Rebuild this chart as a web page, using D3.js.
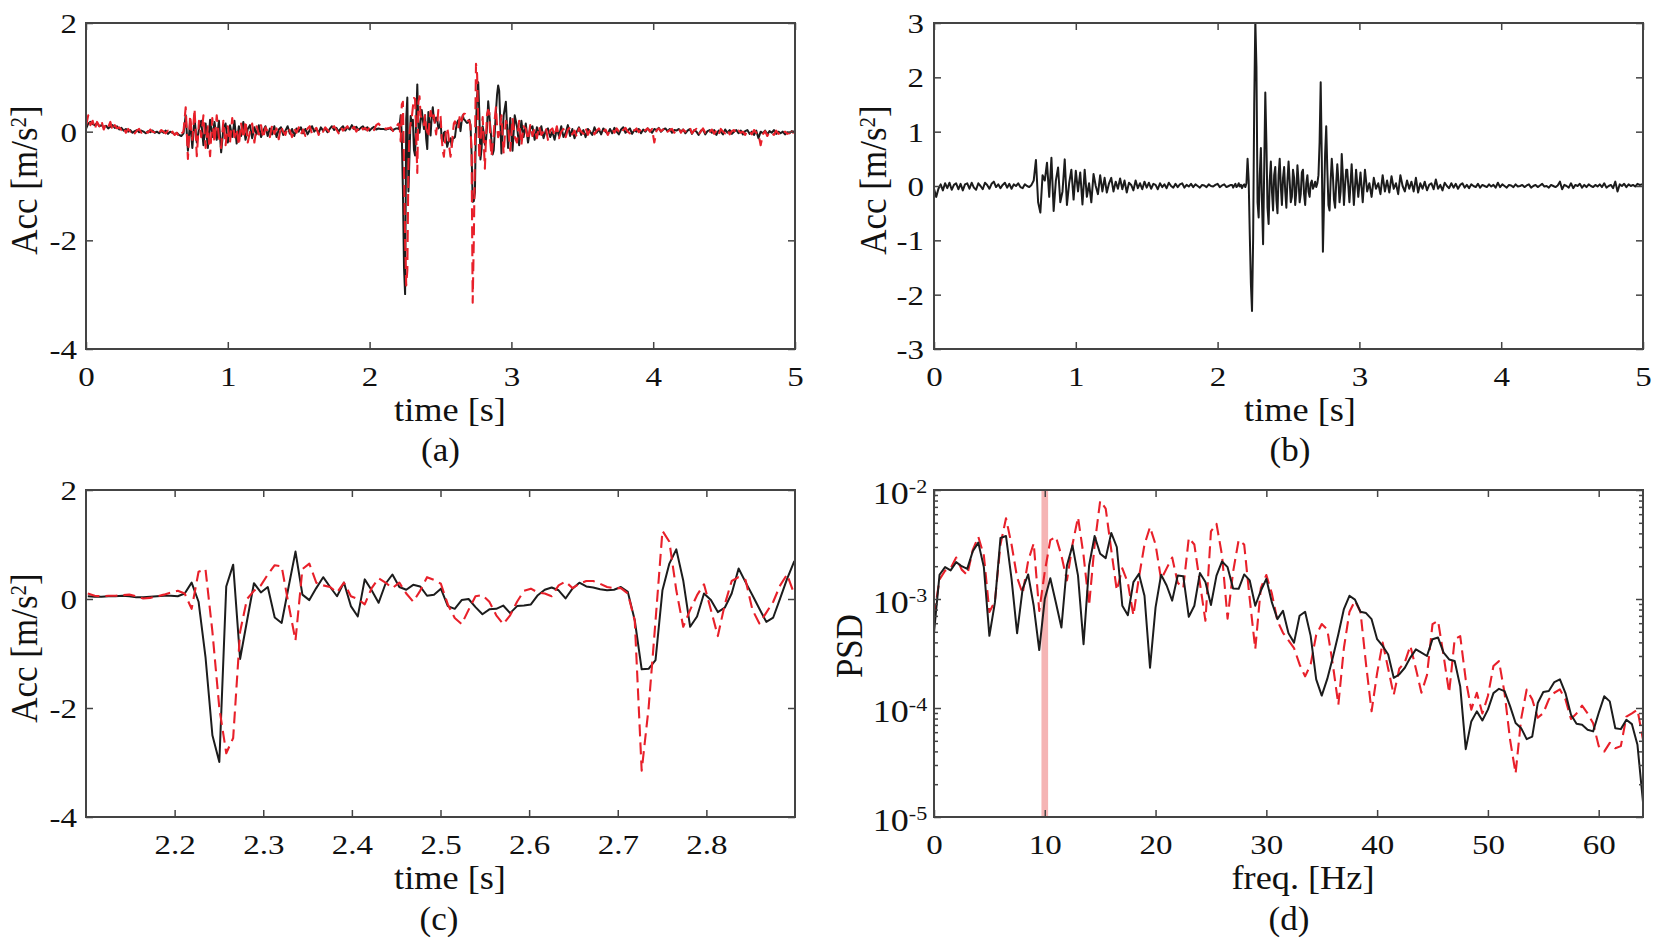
<!DOCTYPE html>
<html><head><meta charset="utf-8">
<script src="https://cdn.jsdelivr.net/npm/d3@7"></script>
<style>
html,body{margin:0;padding:0;background:#fff;}
svg{display:block;}
text{font-family:"Liberation Serif","Times New Roman",Times,serif;fill:#111;}
</style></head><body>
<script>
// ---------------- DATA ----------------
// Sampling grid of the acceleration records (s)
const FS_SLOW = 64, FS_FAST = 128;
const PRE_START = 0, MID_START = 2.102, POST_START = 2.9140625;

// Panel (a): measured (black) and simulated (red) acceleration, m/s^2
const accBlackPre = [0.05,0.15,0.18,0.14,0.12,0.16,0.10,0.12,0.08,0.11,0.06,0.09,0.12,0.07,0.10,0.04,
 0.07,0.02,0.05,0.00,0.03,-0.02,0.01,0.03,-0.01,0.02,0.00,-0.03,0.01,-0.01,0.02,-0.02,
 0.00,-0.03,0.01,-0.02,0.02,-0.04,0.00,-0.02,-0.05,-0.02,-0.06,-0.08,-0.03,0.30,-0.35,0.20,
 -0.30,0.25,-0.20,0.05,0.20,-0.25,0.15,-0.30,0.22,-0.10,0.18,-0.15,0.20,-0.38,0.05,0.15,
 -0.20,0.12,-0.10,0.20,-0.22,0.10,-0.08,0.18,-0.15,0.05,0.12,-0.12,0.08,-0.05,0.12,-0.10,
 0.02,0.10,-0.08,0.06,-0.05,0.10,-0.10,0.04,0.08,-0.06,0.02,0.10,-0.04,0.05,-0.08,0.06,
 0.00,0.08,-0.03,0.05,-0.05,0.03,0.10,0.00,0.05,-0.02,0.08,0.02,0.06,-0.01,0.05,0.10,
 0.03,0.07,0.00,0.06,0.10,0.02,0.08,0.04,0.12,0.05,0.09,0.03,0.07,0.10,0.04,0.08,
 0.02,0.06,0.09,0.04,0.06,0.05,0.05];
const accRedPre = [0.10,0.30,0.12,0.20,0.05,0.18,0.10,0.20,0.04,0.14,0.08,0.18,0.02,0.12,0.06,0.08,
 0.03,0.08,-0.02,0.05,0.00,0.04,-0.03,0.02,0.05,-0.02,0.03,0.00,-0.02,0.04,0.00,-0.01,
 0.02,-0.02,0.03,0.00,-0.03,0.02,-0.05,0.00,-0.06,-0.02,-0.10,-0.04,0.00,0.45,-0.50,0.30,
 -0.15,0.42,-0.45,0.20,-0.10,0.30,-0.30,0.10,-0.45,0.25,-0.20,0.30,-0.10,-0.30,0.20,-0.25,
 0.10,-0.20,0.25,-0.10,0.05,-0.25,0.15,-0.12,0.20,-0.20,0.00,0.15,-0.20,0.10,-0.05,0.12,
 -0.12,0.08,0.00,-0.10,0.12,-0.04,0.06,-0.14,0.10,0.00,-0.06,0.08,0.02,-0.10,0.06,-0.02,
 0.08,-0.05,0.04,-0.08,0.06,0.10,-0.04,0.03,0.07,-0.06,0.04,0.00,0.08,0.03,-0.02,0.06,
 0.10,0.04,-0.03,0.08,0.02,0.06,0.10,0.01,0.05,0.09,0.00,0.06,0.11,0.04,0.07,0.02,
 0.08,0.10,0.03,0.12,0.15,0.10,0.10];
// 2.1 - 2.9 s window (also panel (c))
const accBlackMid = [0.05,0.04,0.04,0.05,0.05,0.06,0.05,0.03,0.03,0.04,0.05,0.06,0.06,0.05,
 0.10,0.30,-0.05,-1.06,-2.50,-2.99,0.23,0.63,-1.10,-0.40,0.29,0.12,0.22,-0.34,-0.44,0.22,0.87,
 0.08,-0.02,0.20,0.40,0.22,0.05,0.30,-0.13,-0.32,0.36,0.16,-0.07,0.28,0.45,0.22,0.17,0.26,0.23,0.06,0.08,
 0.19,-0.13,-0.18,-0.02,0.00,-0.15,-0.28,-0.19,-0.18,-0.12,-0.26,-0.13,-0.12,-0.10,0.07,0.17,0.21,0.16,0.01,0.19,
 0.30,0.23,0.21,0.18,0.16,0.17,0.22,0.13,-0.39,-1.29,-1.28,-1.12,0.16,0.65,0.91,0.34,-0.51,-0.32,0.10,-0.02,
 -0.24,-0.16,0.10,0.56,0.31,0.07,-0.18,-0.42,-0.34,0.01,0.37,0.68,0.85];
const accRedMid = [0.10,0.06,0.05,0.06,0.06,0.07,0.08,0.05,0.01,0.02,0.05,0.08,0.12,0.15,
 0.10,-0.18,0.50,0.55,-0.60,-2.00,-2.83,-2.55,-0.60,0.00,0.15,0.25,0.45,0.62,0.60,-0.10,-0.76,
 0.55,0.65,0.30,0.25,0.22,0.12,0.30,0.05,0.00,-0.10,0.20,0.38,0.30,0.20,0.30,0.10,-0.05,0.15,0.40,0.35,
 0.28,-0.10,-0.35,-0.46,-0.20,0.05,0.07,-0.05,-0.30,-0.46,-0.30,-0.05,0.15,0.19,0.12,0.10,0.05,0.25,0.32,0.20,
 0.28,0.33,0.33,0.28,0.22,0.20,0.20,0.10,-0.40,-3.15,-2.00,-0.40,1.25,1.05,0.16,-0.51,-0.20,0.07,0.27,-0.20,
 -0.68,-0.10,0.33,0.40,0.35,-0.20,-0.45,-0.25,-0.05,0.25,0.45,0.10,-0.10];
const accBlackPost = [0.75,-0.40,0.30,0.55,-0.30,0.25,-0.35,0.30,0.10,-0.25,0.20,-0.10,0.15,-0.20,0.05,0.10,
 -0.15,0.08,-0.05,0.10,-0.12,0.02,0.06,-0.10,0.00,-0.15,0.05,-0.08,0.10,-0.10,-0.02,0.12,
 -0.08,0.05,-0.12,0.00,0.08,-0.06,0.03,-0.10,0.05,0.00,-0.06,0.08,-0.02,0.04,-0.05,0.06,
 0.00,-0.04,0.05,-0.03,0.07,0.00,-0.05,0.04,0.08,-0.02,0.02,0.06,-0.04,0.03,0.00,0.05,
 -0.03,0.04,0.00,0.06,0.02,-0.02,0.05,0.03,0.07,0.00,0.04,0.06,0.01,0.05,-0.02,0.03,
 0.02,0.05,0.00,0.04,-0.03,0.02,0.05,-0.04,0.03,0.00,-0.06,0.02,0.04,-0.05,0.01,0.03,
 -0.02,0.03,-0.06,0.02,0.00,-0.05,0.04,-0.02,0.03,-0.04,0.00,0.03,-0.03,0.02,-0.05,0.01,
 0.03,-0.04,0.00,-0.06,0.02,-0.12,0.00,-0.03,0.02,-0.05,0.01,-0.02,0.03,-0.04,0.00,-0.03,
 0.00,-0.05,-0.01,-0.03,0.01,0.00,0.02];
const accRedPost = [-0.05,0.30,-0.40,0.20,0.10,-0.35,0.25,-0.10,-0.20,0.20,-0.25,0.10,0.05,-0.15,0.12,-0.08,
 0.06,-0.12,0.10,-0.06,0.00,0.08,-0.15,0.02,0.06,-0.08,0.10,-0.12,0.00,0.05,-0.10,0.04,
 0.08,-0.05,0.02,-0.10,0.06,0.00,-0.04,0.07,-0.06,0.03,0.05,-0.05,0.02,0.06,-0.03,0.00,
 0.04,-0.06,0.02,0.05,-0.02,0.06,0.00,-0.04,0.03,0.07,0.00,-0.03,0.05,0.02,0.06,-0.01,
 0.04,-0.02,0.03,0.06,0.00,0.05,-0.20,0.02,0.06,0.01,0.04,0.08,0.00,0.03,0.05,-0.02,
 0.03,0.06,-0.02,0.04,0.00,0.05,0.08,-0.03,0.02,0.05,-0.05,0.00,0.06,-0.02,0.03,0.00,
 0.04,-0.04,0.02,-0.06,0.05,0.00,-0.03,0.04,-0.05,0.01,0.03,-0.04,0.02,-0.02,0.00,-0.06,
 0.02,0.00,-0.05,0.03,-0.02,-0.04,-0.25,-0.05,0.01,-0.08,0.00,-0.03,-0.06,0.02,-0.04,-0.02,
 -0.05,0.00,-0.04,-0.02,0.00,-0.03,0.00];

// Panel (b): second acceleration record, m/s^2
const accBPre = [-0.05,-0.20,-0.05,0.03,-0.08,0.05,-0.04,0.06,-0.07,0.02,0.05,-0.06,0.04,-0.08,0.03,0.05,
 -0.05,0.06,-0.03,-0.07,0.05,0.00,-0.06,0.06,0.02,-0.05,0.04,0.08,-0.02,0.03,-0.04,0.02,
 0.06,-0.03,0.04,-0.05,0.03,0.00,0.05,-0.02,-0.04,0.03,0.00,-0.02,0.02,0.10,0.48,-0.30,
 -0.49,0.20,0.10,0.43,-0.20,0.52,-0.46,0.10,0.34,-0.30,-0.10,0.49,-0.35,0.05,0.30,-0.25,
 0.28,-0.10,0.25,-0.34,0.30,-0.20,0.05,-0.30,0.22,0.00,-0.15,0.20,-0.10,0.15,-0.12,0.05,
 0.15,-0.10,0.08,-0.05,0.14,-0.06,0.10,-0.12,0.06,0.02,-0.08,0.10,-0.04,0.05,-0.06,0.08,
 -0.03,0.06,-0.05,0.04,0.02,-0.06,0.05,-0.02,0.03,-0.04,0.06,0.00,-0.03,0.04,-0.02,0.03,
 0.05,-0.03,0.02,-0.01,0.04,-0.02,0.03,0.00,-0.03,0.02,0.01,-0.02,0.03,0.00,-0.01,0.02,
 0.04,-0.02,0.01,0.03,-0.02,0.00,0.02];
const accBMid = [0.02,-0.03,0.01,0.04,-0.02,0.00,0.05,-0.01,0.02,-0.04,0.01,0.03,-0.02,
 0.05,0.50,0.10,-0.90,-1.80,-2.30,-1.00,1.50,3.05,2.20,-0.30,-0.58,0.20,0.70,-0.30,-1.07,0.30,1.72,
 0.80,-0.40,-0.70,0.10,0.45,-0.10,-0.45,0.20,0.35,-0.25,-0.50,0.20,0.50,0.00,-0.35,0.15,0.35,-0.10,-0.40,0.10,
 0.45,0.10,-0.30,-0.20,0.30,0.15,-0.35,-0.10,0.38,0.10,-0.30,-0.15,0.25,0.30,-0.15,-0.35,0.05,0.20,-0.10,-0.20,
 0.05,0.10,-0.05,0.00,0.08,-0.02,0.05,0.20,0.80,1.91,0.50,-1.21,-0.30,0.60,1.10,0.30,-0.35,-0.45,0.10,0.50,
 0.20,-0.25,-0.40,0.05,0.40,0.10,-0.30,-0.10,0.59,0.20,-0.35,0.00,0.30];
const accBPost = [0.30,-0.30,0.40,-0.35,0.30,-0.20,0.25,-0.30,0.30,-0.10,0.05,-0.20,0.15,-0.05,0.05,-0.15,
 0.20,-0.10,0.10,-0.12,0.18,-0.05,0.05,-0.15,0.20,0.00,-0.10,0.10,-0.05,0.08,-0.10,0.15,
 -0.12,0.05,-0.05,0.08,-0.08,0.02,0.05,-0.06,0.12,-0.05,0.02,-0.08,0.06,0.00,-0.04,0.05,
 -0.03,0.04,-0.05,0.02,0.05,-0.03,0.02,-0.04,0.03,0.00,-0.02,0.04,-0.03,0.02,0.00,-0.02,
 0.03,-0.01,0.02,-0.03,0.06,-0.02,0.03,0.00,-0.03,0.02,0.01,-0.02,0.03,-0.01,0.00,0.02,
 -0.02,0.01,0.03,-0.03,0.00,0.02,-0.02,0.01,0.04,-0.01,0.00,-0.03,0.02,0.00,-0.02,0.01,
 0.08,-0.06,0.02,0.00,-0.03,0.05,-0.04,0.02,0.00,0.04,-0.03,0.02,-0.02,0.03,0.00,-0.02,
 0.02,-0.01,0.03,-0.02,0.05,-0.03,0.00,0.02,-0.04,0.08,-0.10,0.03,0.00,0.04,-0.02,0.03,
 0.00,0.02,-0.01,0.04,0.02,0.03,0.02];

// Panel (d): PSD, frequency step 0.5 Hz from 0 to 64 Hz
const PSD_DF = 0.5;
const psdBlack = [4.92e-4,1.67e-3,1.96e-3,1.83e-3,2.18e-3,2.0e-3,1.89e-3,2.74e-3,3.29e-3,1.96e-3,
 4.59e-4,9.3e-4,3.63e-3,3.78e-3,1.53e-3,4.85e-4,1.24e-3,1.68e-3,8.67e-4,3.4e-4,
 1.0e-3,1.55e-3,9.3e-4,5.47e-4,2.03e-3,3.1e-3,1.64e-3,3.85e-4,2.03e-3,3.78e-3,
 2.6e-3,2.37e-3,4.04e-3,3.0e-3,8.67e-4,7.11e-4,1.43e-3,1.7e-3,1.07e-3,2.34e-4,
 8.38e-4,1.67e-3,1.33e-3,9.66e-4,1.64e-3,1.62e-3,6.87e-4,8.67e-4,1.73e-3,1.43e-3,
 8.81e-4,1.64e-3,2.21e-3,1.96e-3,1.25e-3,1.24e-3,1.68e-3,1.48e-3,8.67e-4,1.19e-3,
 1.53e-3,9.3e-4,6.53e-4,7.8e-4,4.84e-4,3.98e-4,7.01e-4,7.64e-4,4.59e-4,1.83e-4,
 1.3e-4,1.85e-4,2.9e-4,4.75e-4,8.09e-4,1.07e-3,9.86e-4,7.64e-4,7.43e-4,6.53e-4,
 4.28e-4,3.71e-4,3.1e-4,1.89e-4,2.03e-4,2.34e-4,2.9e-4,3.45e-4,3.22e-4,3.0e-4,
 4.28e-4,4.43e-4,3.22e-4,2.79e-4,2.7e-4,1.58e-4,4.19e-5,7.53e-5,9.31e-5,7.69e-5,
 9.66e-5,1.37e-4,1.5e-4,1.43e-4,1.04e-4,7.28e-5,6.53e-5,5.18e-5,5.47e-5,1.11e-4,
 1.4e-4,1.43e-4,1.73e-4,1.83e-4,1.37e-4,8.67e-5,7.16e-5,7.01e-5,6.31e-5,6.1e-5,
 8.99e-5,1.28e-4,1.15e-4,6.53e-5,6.4e-5,7.8e-5,7.11e-5,4.59e-5,1.37e-5];
const psdRed = [7.08e-4,1.51e-3,1.82e-3,1.91e-3,2.4e-3,1.86e-3,1.66e-3,2.82e-3,3.72e-3,2.51e-3,
 7.59e-4,9.55e-4,3.16e-3,5.5e-3,3.16e-3,1.58e-3,1.12e-3,2.24e-3,3.24e-3,7.76e-4,
 1.78e-3,3.47e-3,3.72e-3,2.51e-3,1.48e-3,3.16e-3,5.62e-3,2.51e-3,8.71e-4,3.16e-3,
 7.94e-3,6.76e-3,2.82e-3,1.2e-3,1.91e-3,1.41e-3,7.08e-4,1.58e-3,3.16e-3,4.57e-3,
 3.16e-3,1.51e-3,1.91e-3,2.4e-3,1.41e-3,1.26e-3,3.63e-3,3.16e-3,1.41e-3,6.31e-4,
 4.17e-3,4.9e-3,2.51e-3,6.61e-4,1.78e-3,3.47e-3,3.16e-3,1.0e-3,3.47e-4,1.26e-3,
 1.66e-3,1.12e-3,6.31e-4,4.9e-4,4.17e-4,3.55e-4,2.51e-4,1.95e-4,2.51e-4,4.68e-4,
 5.89e-4,5.25e-4,2.51e-4,1.07e-4,3.55e-4,7.59e-4,9.66e-4,7.59e-4,2.51e-4,9.33e-5,
 2.09e-4,3.98e-4,2.29e-4,1.32e-4,2.29e-4,2.63e-4,3.72e-4,2.29e-4,1.38e-4,2.0e-4,
 5.89e-4,6.31e-4,3.02e-4,1.38e-4,4.27e-4,4.57e-4,1.82e-4,9.66e-5,1.38e-4,8.91e-5,
 1.29e-4,2.43e-4,2.69e-4,1.38e-4,5.13e-5,2.51e-5,7.94e-5,1.48e-4,1.2e-4,8.13e-5,
 8.99e-5,1.2e-4,1.38e-4,1.48e-4,1.2e-4,7.94e-5,8.91e-5,1.05e-4,8.91e-5,7.24e-5,
 4.47e-5,3.98e-5,4.79e-5,4.27e-5,4.47e-5,8.32e-5,8.91e-5,9.66e-5,5.13e-5];
const highlightBand = [9.7, 10.3]; // Hz

// Tick values / labels
const timeTicks = [0, 1, 2, 3, 4, 5];
const accTicksA = [-4, -2, 0, 2];
const accTicksB = [-3, -2, -1, 0, 1, 2, 3];
const zoomTimeTicks = [2.2, 2.3, 2.4, 2.5, 2.6, 2.7, 2.8];
const freqTicks = [0, 10, 20, 30, 40, 50, 60];
const psdTicks = [1e-5, 1e-4, 1e-3, 1e-2];
const psdTickExp = ["-5", "-4", "-3", "-2"];

// ---------------- DRAWING ----------------
const COLORS = {axis: "#444444", black: "#1c1c1c", red: "#e8202a", band: "#f5b4b4"};
const TICK_FS = 27.5, TICK_SX = 1.2, TITLE_FS = 33, TITLE_SX = 1.1, YTITLE_FS = 35, PANEL_FS = 34;

const svg = d3.select("body").append("svg").attr("width", 1654).attr("height", 942);

function assemble(pre, mid, post) {
  return [
    ...pre.map((v, i) => [PRE_START + i / FS_SLOW, v]),
    ...mid.map((v, i) => [MID_START + i / FS_FAST, v]),
    ...post.map((v, i) => [POST_START + i / FS_SLOW, v])
  ];
}
const midOnly = mid => mid.map((v, i) => [MID_START + i / FS_FAST, v]);
const psdSeries = arr => arr.map((v, i) => [i * PSD_DF, v]);

function styleTicks(sel) {
  sel.select(".domain").remove();
  sel.selectAll(".tick line").attr("stroke", COLORS.axis).attr("stroke-width", 1.5);
}

function drawPanel(p) {
  const g = svg.append("g");
  const [xa, xb] = p.x.range();
  const [ya, yb] = p.y.range(); // ya bottom, yb top
  const cid = "clip-" + p.id;
  g.append("clipPath").attr("id", cid).append("rect")
    .attr("x", xa).attr("y", yb).attr("width", xb - xa).attr("height", ya - yb);
  const plot = g.append("g").attr("clip-path", `url(#${cid})`);
  if (p.band) {
    plot.append("rect").attr("x", p.x(p.band[0])).attr("width", p.x(p.band[1]) - p.x(p.band[0]))
      .attr("y", yb).attr("height", ya - yb).attr("fill", COLORS.band);
  }
  const line = d3.line().x(d => p.x(d[0])).y(d => p.y(d[1]));
  p.series.forEach(s => {
    plot.append("path").datum(s.data).attr("fill", "none").attr("stroke", s.color)
      .attr("stroke-width", s.width).attr("stroke-dasharray", s.dash || null)
      .attr("stroke-linejoin", "round").attr("d", line);
  });

  // bottom axis with labels
  const gb = g.append("g").attr("transform", `translate(0,${ya})`)
    .call(d3.axisBottom(p.x).tickValues(p.xTicks).tickSize(-7).tickFormat(p.xFmt || (d => String(d))));
  styleTicks(gb);
  gb.selectAll(".tick text").attr("y", 36.6).attr("dy", null).attr("font-size", TICK_FS)
    .attr("transform", `scale(${TICK_SX},1)`);
  // top axis (ticks only)
  const gt = g.append("g").attr("transform", `translate(0,${yb})`)
    .call(d3.axisTop(p.x).tickValues(p.xTicks).tickSize(-7).tickFormat(() => ""));
  styleTicks(gt);

  // left axis with labels
  const gl = g.append("g").attr("transform", `translate(${xa},0)`)
    .call(d3.axisLeft(p.y).tickValues(p.yTicks).tickSize(-7).tickFormat(d => String(d)));
  styleTicks(gl);
  if (p.log) {
    gl.selectAll(".tick text").each(function(d, i) {
      const t = d3.select(this);
      t.text(null).attr("x", -7 / TICK_SX).attr("dy", "0.44em").attr("font-size", 31)
        .attr("transform", `scale(${TICK_SX * 0.97},1)`);
      t.append("tspan").text("10");
      t.append("tspan").attr("font-size", 19).attr("dy", -11).text(p.expLabels[i]);
    });
  } else {
    gl.selectAll(".tick text").attr("x", -p.yPad / TICK_SX).attr("dy", "0.34em")
      .attr("font-size", TICK_FS).attr("transform", `scale(${TICK_SX},1)`);
  }
  // right axis (ticks only)
  const gr = g.append("g").attr("transform", `translate(${xb},0)`)
    .call(d3.axisRight(p.y).tickValues(p.yTicks).tickSize(-7).tickFormat(() => ""));
  styleTicks(gr);

  if (p.minorY) {
    const gml = g.append("g").attr("transform", `translate(${xa},0)`)
      .call(d3.axisLeft(p.y).tickValues(p.minorY).tickSize(-4).tickFormat(() => ""));
    styleTicks(gml);
    const gmr = g.append("g").attr("transform", `translate(${xb},0)`)
      .call(d3.axisRight(p.y).tickValues(p.minorY).tickSize(-4).tickFormat(() => ""));
    styleTicks(gmr);
  }

  // frame
  g.append("rect").attr("x", xa).attr("y", yb).attr("width", xb - xa).attr("height", ya - yb)
    .attr("fill", "none").attr("stroke", COLORS.axis).attr("stroke-width", 2);
}

function hText(x, y, str, fs, sx) {
  svg.append("text").attr("transform", `translate(${x},${y}) scale(${sx},1)`)
    .attr("text-anchor", "middle").attr("font-size", fs).text(str);
}
function yTitleAcc(x, y) {
  const t = svg.append("text").attr("transform", `translate(${x},${y}) rotate(-90) scale(1,1.08)`)
    .attr("text-anchor", "middle").attr("font-size", YTITLE_FS);
  t.append("tspan").text("Acc [m/s");
  t.append("tspan").attr("font-size", 21).attr("dy", -10).text("2");
  t.append("tspan").attr("dy", 10).text("]");
}

const X_LEFT = [86, 795], X_RIGHT = [934, 1643];
const Y_TOP = [349, 23], Y_BOT = [817, 490];

const lineBlack = {color: COLORS.black, width: 2};
const lineRed = {color: COLORS.red, width: 2.1, dash: "12,6"};

// (a)
drawPanel({
  id: "a",
  x: d3.scaleLinear().domain([0, 5]).range(X_LEFT),
  y: d3.scaleLinear().domain([-4, 2]).range(Y_TOP),
  xTicks: timeTicks, yTicks: accTicksA, yPad: 9,
  series: [
    {...lineBlack, data: assemble(accBlackPre, accBlackMid, accBlackPost)},
    {...lineRed, data: assemble(accRedPre, accRedMid, accRedPost)}
  ]
});
// (b)
drawPanel({
  id: "b",
  x: d3.scaleLinear().domain([0, 5]).range(X_RIGHT),
  y: d3.scaleLinear().domain([-3, 3]).range(Y_TOP),
  xTicks: timeTicks, yTicks: accTicksB, yPad: 10,
  series: [{...lineBlack, data: assemble(accBPre, accBMid, accBPost)}]
});
// (c)
drawPanel({
  id: "c",
  x: d3.scaleLinear().domain([2.1, 2.9]).range(X_LEFT),
  y: d3.scaleLinear().domain([-4, 2]).range(Y_BOT),
  xTicks: zoomTimeTicks, xFmt: d3.format(".1f"), yTicks: accTicksA, yPad: 9,
  series: [
    {...lineBlack, data: midOnly(accBlackMid)},
    {...lineRed, data: midOnly(accRedMid)}
  ]
});
// (d)
const minorPsd = [];
[-5, -4, -3].forEach(e => { for (let m = 2; m <= 9; m++) minorPsd.push(m * Math.pow(10, e)); });
drawPanel({
  id: "d",
  x: d3.scaleLinear().domain([0, 64]).range(X_RIGHT),
  y: d3.scaleLog().domain([1e-5, 1e-2]).range(Y_BOT),
  xTicks: freqTicks, yTicks: psdTicks, log: true, expLabels: psdTickExp, minorY: minorPsd,
  band: highlightBand,
  series: [
    {...lineRed, data: psdSeries(psdRed)},
    {...lineBlack, data: psdSeries(psdBlack)}
  ]
});

// titles
hText(450, 421, "time [s]", TITLE_FS, TITLE_SX);
hText(1300, 421, "time [s]", TITLE_FS, TITLE_SX);
hText(450, 888.5, "time [s]", TITLE_FS, TITLE_SX);
hText(1303, 889, "freq. [Hz]", TITLE_FS, TITLE_SX);
hText(440.5, 460.5, "(a)", PANEL_FS, 1.03);
hText(1290, 460.5, "(b)", PANEL_FS, 1.03);
hText(439, 930, "(c)", PANEL_FS, 1.03);
hText(1289, 930, "(d)", PANEL_FS, 1.03);
yTitleAcc(37, 180);
yTitleAcc(885.5, 180);
yTitleAcc(37, 648);
svg.append("text").attr("transform", "translate(861.5,646) rotate(-90) scale(1,1.08)")
  .attr("text-anchor", "middle").attr("font-size", YTITLE_FS).text("PSD");
</script>
</body></html>
